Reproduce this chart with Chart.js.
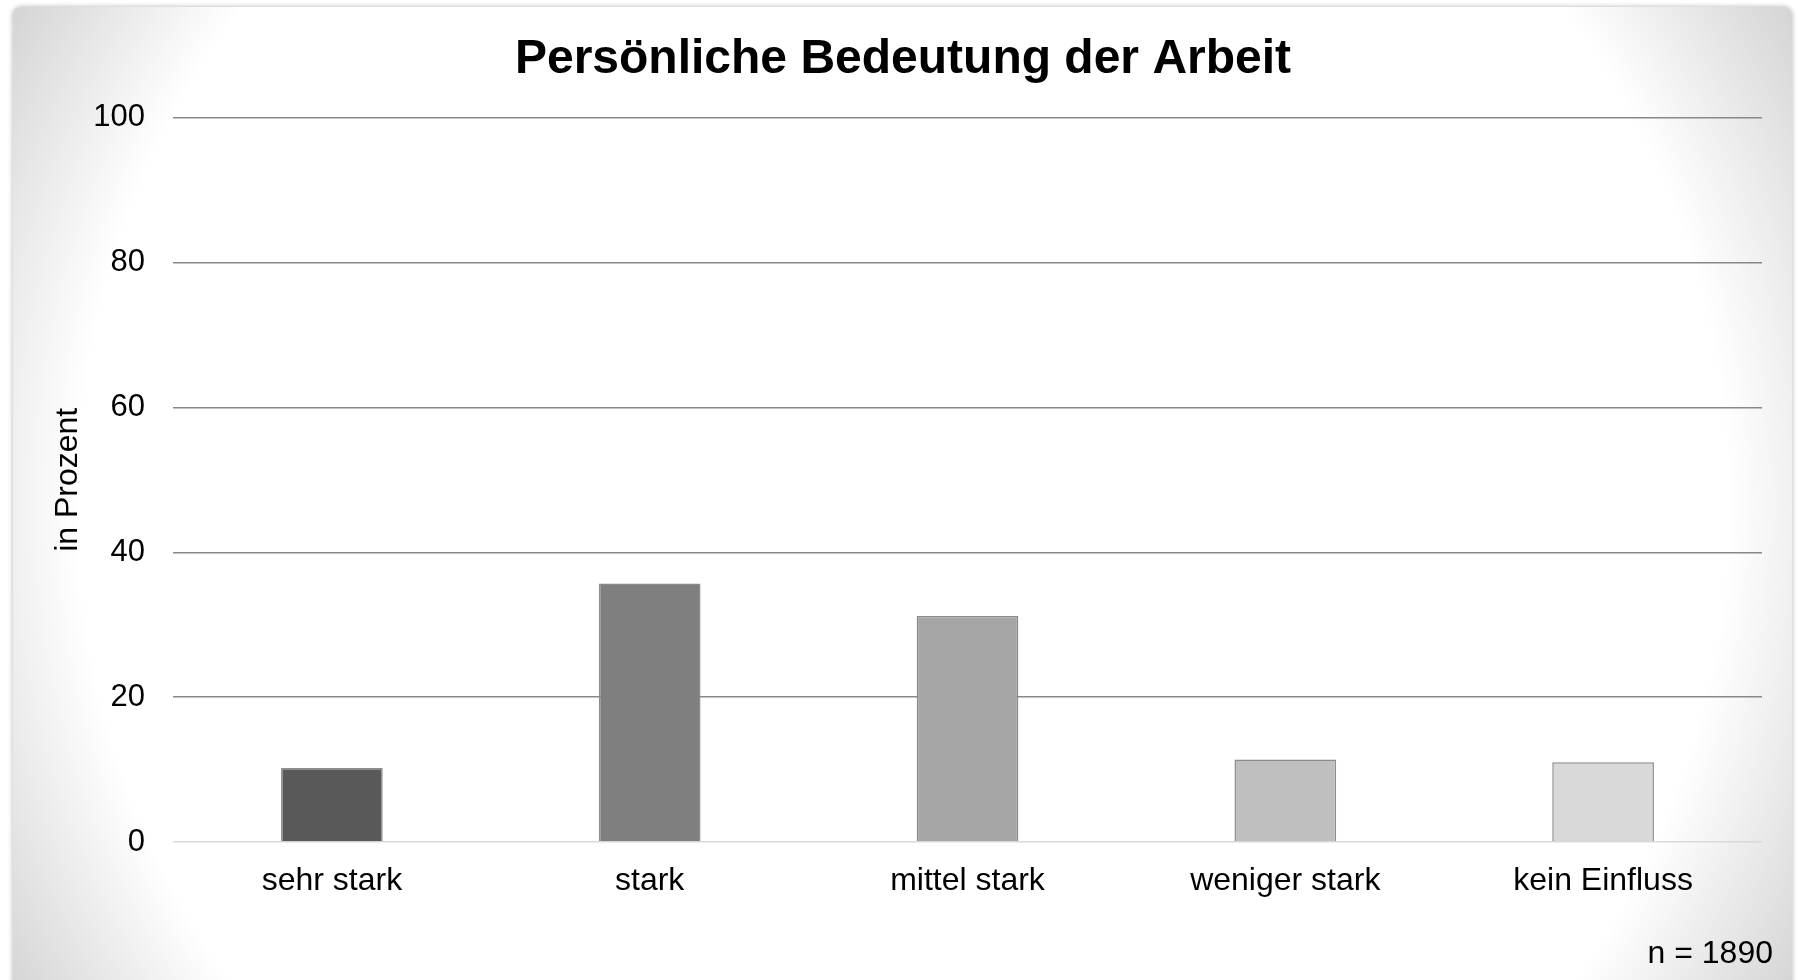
<!DOCTYPE html>
<html lang="de">
<head>
<meta charset="utf-8">
<title>Persönliche Bedeutung der Arbeit</title>
<script src="https://cdn.jsdelivr.net/npm/chart.js@4.4.1/dist/chart.umd.min.js"></script>
<style>
  html, body { margin: 0; padding: 0; background: #fff; overflow: hidden; }
  #card {
    position: absolute; left: 13px; top: 7px; width: 1779px; height: 990px;
    border-radius: 8px;
    box-shadow: 0 0 4px 1px rgba(0, 0, 0, 0.22);
    background: radial-gradient(circle farthest-corner at center, #ffffff 0%, #ffffff 81%, #d4d4d4 100%);
  }
  #chart { position: absolute; left: 0; top: 0; }
  #note {
    position: absolute; right: 25px; top: 934px;
    font: 32px "Liberation Sans", Arial, sans-serif; line-height: 36px; color: #000;
  }
</style>
</head>
<body>
<div id="card"></div>
<canvas id="chart" width="1798" height="980"></canvas>
<div id="note">n = 1890</div>
<script>
// --- Data ---
const categories = ['sehr stark', 'stark', 'mittel stark', 'weniger stark', 'kein Einfluss'];
const percentValues = [10.2, 35.7, 31.2, 11.4, 11.0];
const barColors = ['#595959', '#7f7f7f', '#a5a5a5', '#bfbfbf', '#d9d9d9'];
const yTicks = [0, 20, 40, 60, 80, 100];

const fontFamily = '"Liberation Sans", Arial, sans-serif';

const ctx = document.getElementById('chart').getContext('2d');
new Chart(ctx, {
    type: 'bar',
    data: {
        labels: categories,
        datasets: [{
            label: 'in Prozent',
            data: percentValues,
            backgroundColor: barColors,
            borderColor: '#8c8c8c',
            borderWidth: 1.5,
            categoryPercentage: 1,
            barPercentage: 0.32
        }]
    },
    options: {
        responsive: false,
        animation: false,
        // left padding keeps the title centred on the card
        layout: { padding: { left: 44, right: 36, top: 0, bottom: 78 } },
        plugins: {
            legend: { display: false },
            tooltip: { enabled: false },
            title: {
                display: true,
                text: 'Persönliche Bedeutung der Arbeit',
                color: '#000',
                font: { family: fontFamily, size: 48, weight: 'bold' },
                padding: { top: 31, bottom: 29 }
            }
        },
        scales: {
            x: {
                grid: { display: false, drawTicks: false },
                border: { display: false },
                ticks: { color: '#000', font: { family: fontFamily, size: 32 }, padding: 20 },
                afterFit: (scale) => { scale.height = 60; }
            },
            y: {
                min: 0,
                max: 100,
                afterBuildTicks: (scale) => { scale.ticks = yTicks.map(v => ({ value: v })); },
                grid: {
                    drawTicks: false,
                    color: (c) => (c.tick && c.tick.value === 0 ? '#d9d9d9' : '#888888'),
                    lineWidth: 1.4
                },
                border: { display: false },
                ticks: { color: '#000', font: { family: fontFamily, size: 31 }, padding: 28 },
                title: {
                    display: true,
                    text: 'in Prozent',
                    color: '#000',
                    font: { family: fontFamily, size: 32 },
                    padding: { top: 5, bottom: 0 }
                },
                afterFit: (scale) => { scale.width = 129; }
            }
        }
    }
});
</script>
</body>
</html>
